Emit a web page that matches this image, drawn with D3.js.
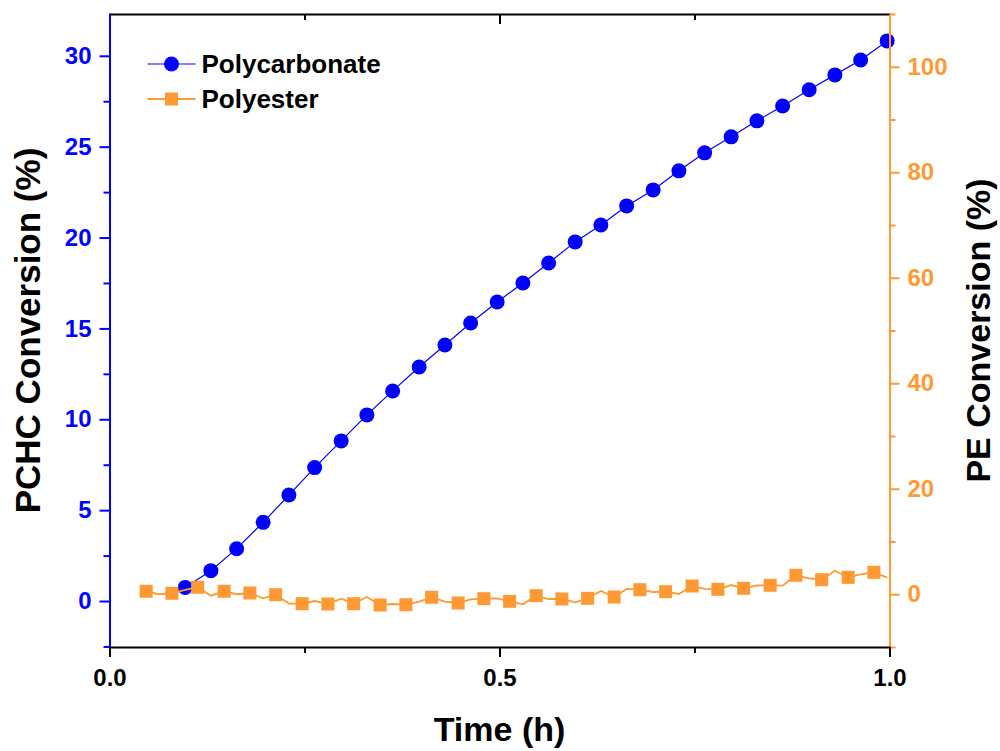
<!DOCTYPE html>
<html lang="en">
<head>
<meta charset="utf-8">
<script src="https://cdn.jsdelivr.net/npm/d3@7/dist/d3.min.js"></script>
<style>
body { margin: 0; background: #fff; }
svg text { font-family: "Liberation Sans", Arial, sans-serif; font-weight: bold; }
</style>
</head>
<body>
<div id="chart"></div>
<script>

// time (h) and conversion (%)
var pcTime = [0.097,0.130,0.163,0.197,0.230,0.263,0.297,0.330,0.363,0.397,0.430,0.463,0.497,0.530,
              0.563,0.597,0.630,0.663,0.697,0.730,0.763,0.797,0.830,0.863,0.897,0.930,0.963,0.997];
var pcConv = [0.75,1.67,2.88,4.33,5.83,7.34,8.81,10.24,11.56,12.88,14.09,15.3,16.45,17.5,
              18.6,19.76,20.69,21.74,22.62,23.67,24.66,25.54,26.42,27.24,28.13,28.95,29.77,30.82];

var peTime = [0.047,0.063,0.080,0.097,0.113,0.130,0.147,0.163,0.180,0.197,0.213,0.230,0.247,0.263,0.280,
              0.297,0.313,0.330,0.347,0.363,0.380,0.397,0.413,0.430,0.447,0.463,0.480,0.497,0.513,0.530,
              0.547,0.563,0.580,0.597,0.613,0.630,0.647,0.663,0.680,0.697,0.713,0.730,0.747,0.763,0.780,
              0.797,0.813,0.830,0.847,0.863,0.880,0.897,0.913,0.930,0.947,0.963,0.980,0.997];
var peConv = [0.56,0.0,0.18,0.81,1.32,-0.27,0.56,0.0,0.24,-0.77,-0.09,-1.75,-1.79,-1.28,-1.85,
              -0.84,-1.79,-0.52,-2.04,-1.85,-1.98,-1.41,-0.58,-1.41,-1.66,-0.96,-0.84,-0.77,-1.34,-1.91,
              -0.27,-0.9,-0.9,-1.53,-0.77,0.62,-0.52,1.0,0.86,0.43,0.48,0.05,1.56,1.0,0.94,
              1.75,1.13,1.66,1.7,1.62,3.59,3.02,2.76,4.46,3.21,3.78,4.16,3.14];

var seriesNames = ["Polycarbonate", "Polyester"];
var xTicks = [0, 0.5, 1.0];
var xMinor = [0.25, 0.75];
var leftTicks = [0, 5, 10, 15, 20, 25, 30];
var leftMinor = [-2.5, 2.5, 7.5, 12.5, 17.5, 22.5, 27.5];
var rightTicks = [0, 20, 40, 60, 80, 100];
var rightMinor = [-10, 10, 30, 50, 70, 90, 110];

var blue = "#0000ff", orange = "#ff9933";

var W = 1000, H = 751;
var margin = {top: 14, right: 110.5, bottom: 104, left: 109.5};
var width = W - margin.left - margin.right,
    height = H - margin.top - margin.bottom;

var x = d3.scaleLinear().domain([0, 1]).range([0, width]);
var yL = d3.scaleLinear().domain([-2.53, 32.3]).range([height, 0]);
var yR = d3.scaleLinear().domain([-10, 110]).range([height, 0]);

var svg = d3.select("#chart").append("svg")
    .attr("width", W).attr("height", H)
  .append("g")
    .attr("transform", "translate(" + margin.left + "," + margin.top + ")");

// series
var pc = pcTime.map(function(t, i) { return {x: t, y: pcConv[i]}; });
var pe = peTime.map(function(t, i) { return {x: t, y: peConv[i]}; });

svg.append("path")
    .datum(pc)
    .attr("fill", "none").attr("stroke", blue).attr("stroke-width", 1.2)
    .attr("d", d3.line().x(function(d) { return x(d.x); }).y(function(d) { return yL(d.y); }));

svg.selectAll(".dot")
    .data(pc)
  .enter().append("circle")
    .attr("class", "dot")
    .attr("cx", function(d) { return x(d.x); })
    .attr("cy", function(d) { return yL(d.y); })
    .attr("r", 7.5)
    .attr("fill", blue);

svg.append("path")
    .datum(pe)
    .attr("fill", "none").attr("stroke", orange).attr("stroke-width", 1.8)
    .attr("d", d3.line().x(function(d) { return x(d.x); }).y(function(d) { return yR(d.y); }));

var sq = 13;
svg.selectAll(".sq")
    .data(pe.filter(function(d, i) { return i % 2 === 0; }))
  .enter().append("rect")
    .attr("class", "sq")
    .attr("x", function(d) { return x(d.x) - sq / 2; })
    .attr("y", function(d) { return yR(d.y) - sq / 2; })
    .attr("width", sq).attr("height", sq)
    .attr("fill", orange);

// axes
function styleAxis(g, color) {
  g.select(".domain").attr("stroke", color).attr("stroke-width", 2);
  g.selectAll(".tick line").attr("stroke", color).attr("stroke-width", 2);
  g.selectAll(".tick text").attr("fill", color).style("font-size", "24px");
}

// top frame line + inward ticks
var gTop = svg.append("g")
    .call(d3.axisTop(x).tickValues(xTicks).tickSize(-10).tickFormat(""));
styleAxis(gTop, "#000");
var gTopMinor = svg.append("g")
    .call(d3.axisTop(x).tickValues(xMinor).tickSize(-6).tickFormat(""));
styleAxis(gTopMinor, "#000");
gTopMinor.select(".domain").remove();

var gLeft = svg.append("g")
    .call(d3.axisLeft(yL).tickValues(leftTicks).tickSize(10).tickPadding(8).tickSizeOuter(0));
styleAxis(gLeft, blue);
var gLeftMinor = svg.append("g")
    .call(d3.axisLeft(yL).tickValues(leftMinor).tickSize(6).tickFormat(""));
styleAxis(gLeftMinor, blue);
gLeftMinor.select(".domain").remove();

var gRight = svg.append("g")
    .attr("transform", "translate(" + width + ",0)")
    .call(d3.axisRight(yR).tickValues(rightTicks).tickSize(10).tickPadding(8).tickSizeOuter(0));
styleAxis(gRight, orange);
var gRightMinor = svg.append("g")
    .attr("transform", "translate(" + width + ",0)")
    .call(d3.axisRight(yR).tickValues(rightMinor).tickSize(6).tickFormat(""));
styleAxis(gRightMinor, orange);
gRightMinor.select(".domain").remove();

var gBottom = svg.append("g")
    .attr("transform", "translate(0," + height + ")")
    .call(d3.axisBottom(x).tickValues(xTicks).tickSize(10).tickPadding(12).tickSizeOuter(0)
      .tickFormat(d3.format(".1f")));
styleAxis(gBottom, "#000");
var gBottomMinor = svg.append("g")
    .attr("transform", "translate(0," + height + ")")
    .call(d3.axisBottom(x).tickValues(xMinor).tickSize(6).tickFormat(""));
styleAxis(gBottomMinor, "#000");
gBottomMinor.select(".domain").remove();

// axis titles
svg.append("text")
    .attr("transform", "translate(" + (-70) + "," + (height / 2) + ") rotate(-90)")
    .attr("text-anchor", "middle")
    .style("font-size", "35px")
    .text("PCHC Conversion (%)");

svg.append("text")
    .attr("transform", "translate(" + (width + 100) + "," + (height / 2) + ") rotate(-90)")
    .attr("text-anchor", "middle")
    .style("font-size", "34px")
    .text("PE Conversion (%)");

svg.append("text")
    .attr("x", width / 2).attr("y", height + 94)
    .attr("text-anchor", "middle")
    .style("font-size", "34px")
    .text("Time (h)");

// legend
var legend = svg.selectAll(".legend")
    .data(seriesNames)
  .enter().append("g")
    .attr("class", "legend")
    .attr("transform", function(d, i) { return "translate(" + 38 + "," + (50 + i * 35) + ")"; });

legend.append("line")
    .attr("x1", 0).attr("x2", 48)
    .attr("stroke", function(d, i) { return i ? orange : blue; })
    .attr("stroke-width", function(d, i) { return i ? 1.8 : 1.2; });

legend.filter(function(d, i) { return i === 0; }).append("circle")
    .attr("cx", 24).attr("r", 7.5).attr("fill", blue);
legend.filter(function(d, i) { return i === 1; }).append("rect")
    .attr("x", 24 - sq / 2).attr("y", -sq / 2).attr("width", sq).attr("height", sq).attr("fill", orange);

legend.append("text")
    .attr("x", 54).attr("dy", "0.35em")
    .style("font-size", "26px")
    .text(String);

</script>
</body>
</html>
